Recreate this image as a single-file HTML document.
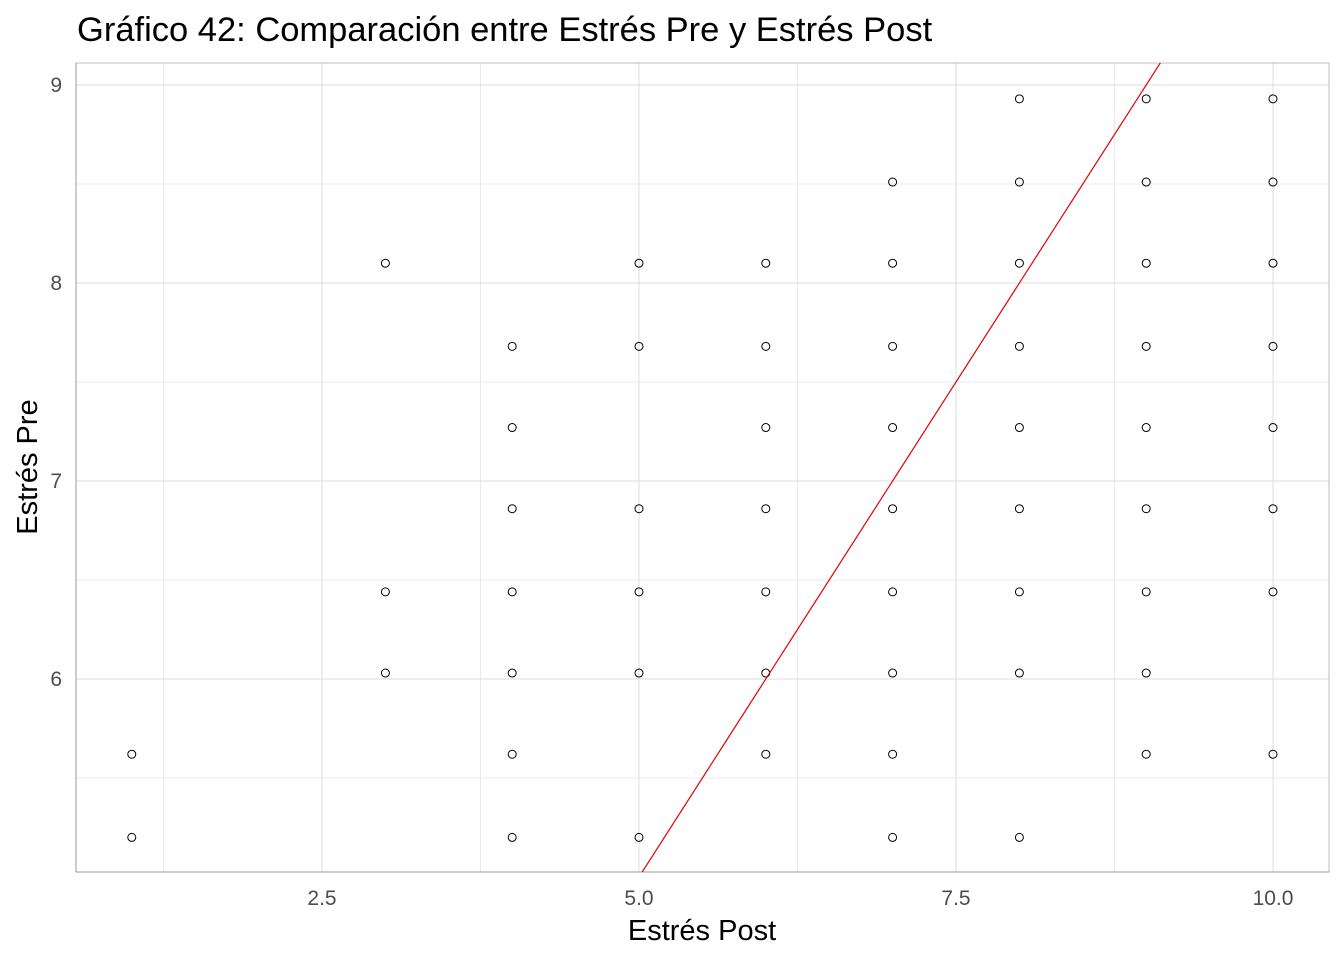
<!DOCTYPE html>
<html><head><meta charset="utf-8"><style>
body{margin:0;background:#fff;}
svg{display:block;font-family:"Liberation Sans",Arial,sans-serif;}
</style></head><body>
<svg id="chart" width="1344" height="960">
<text x="77" y="41" font-size="34.5" fill="#000">Gráfico 42: Comparación entre Estrés Pre y Estrés Post</text>
<g id="grid"></g>
<rect x="76" y="63" width="1253" height="809" fill="none" stroke="#bdbdbd" stroke-width="1"/>
<line x1="76" y1="63" x2="76" y2="872" stroke="#999"/>
<line x1="76" y1="872" x2="1329" y2="872" stroke="#999"/>
<g id="ticks"></g>
<defs><clipPath id="clip"><rect x="76" y="63" width="1253" height="809"/></clipPath></defs>
<g id="points"></g>
<g id="fit" clip-path="url(#clip)"></g>
<text x="702" y="940" font-size="29" text-anchor="middle">Estrés Post</text>
<text transform="translate(37,467) rotate(-90)" font-size="29" text-anchor="middle">Estrés Pre</text>
</svg>
<script>
const xTicks=[2.5,5.0,7.5,10.0];
const xTickLabels=["2.5","5.0","7.5","10.0"];
const xMinor=[1.25,3.75,6.25,8.75];
const yTicks=[6,7,8,9];
const yTickLabels=["6","7","8","9"];
const yMinor=[5.5,6.5,7.5,8.5];
const postX=[1,1,3,3,3,4,4,4,4,4,4,4,5,5,5,5,5,5,6,6,6,6,6,6,6,7,7,7,7,7,7,7,7,7,8,8,8,8,8,8,8,8,8,9,9,9,9,9,9,9,9,9,10,10,10,10,10,10,10,10];
const preY=[5.62,5.2,8.1,6.44,6.03,7.68,7.27,6.86,6.44,6.03,5.62,5.2,8.1,7.68,6.86,6.44,6.03,5.2,8.1,7.68,7.27,6.86,6.44,6.03,5.62,8.51,8.1,7.68,7.27,6.86,6.44,6.03,5.62,5.2,8.93,8.51,8.1,7.68,7.27,6.86,6.44,6.03,5.2,8.93,8.51,8.1,7.68,7.27,6.86,6.44,6.03,5.62,8.93,8.51,8.1,7.68,7.27,6.86,6.44,5.62];
const lineSlope=[1],lineIntercept=[0];
const X=v=>639+(v-5)*126.8;
const Y=v=>679-(v-6)*198;
const NS="http://www.w3.org/2000/svg";
function mk(tag,attrs,parent){const e=document.createElementNS(NS,tag);for(const k in attrs)e.setAttribute(k,attrs[k]);parent.appendChild(e);return e;}
const grid=document.getElementById('grid'),ticks=document.getElementById('ticks'),pts=document.getElementById('points'),fit=document.getElementById('fit');
xMinor.forEach(v=>{const l=mk('line',{x1:X(v),x2:X(v),y1:63,y2:872,stroke:'#ebebeb','stroke-width':1},grid);

});
yMinor.forEach(v=>{const l=mk('line',{x1:76,x2:1329,y1:Y(v),y2:Y(v),stroke:'#ebebeb','stroke-width':1},grid);

});
xTicks.forEach((v,i)=>{const l=mk('line',{x1:X(v),x2:X(v),y1:63,y2:872,stroke:'#dedede','stroke-width':1},grid);


const t=mk('text',{x:X(v),y:905,'font-size':21,fill:'#4d4d4d','text-anchor':'middle'},ticks);t.textContent=xTickLabels[i];

});
yTicks.forEach((v,i)=>{const l=mk('line',{x1:76,x2:1329,y1:Y(v),y2:Y(v),stroke:'#dedede','stroke-width':1},grid);


const t=mk('text',{x:62,y:Y(v)+7,'font-size':21,fill:'#4d4d4d','text-anchor':'end'},ticks);t.textContent=yTickLabels[i];

});
postX.forEach((v,i)=>{const c=mk('circle',{cx:X(v),cy:Y(preY[i]),r:4,fill:'none',stroke:'#000','stroke-width':1},pts);

});
const x0=4.5,x1=10.5;
const fl=mk('line',{x1:X(x0),y1:Y(lineSlope[0]*x0+lineIntercept[0]),x2:X(x1),y2:Y(lineSlope[0]*x1+lineIntercept[0]),stroke:'#e00000','stroke-width':1.2},fit);


</script>
</body></html>
